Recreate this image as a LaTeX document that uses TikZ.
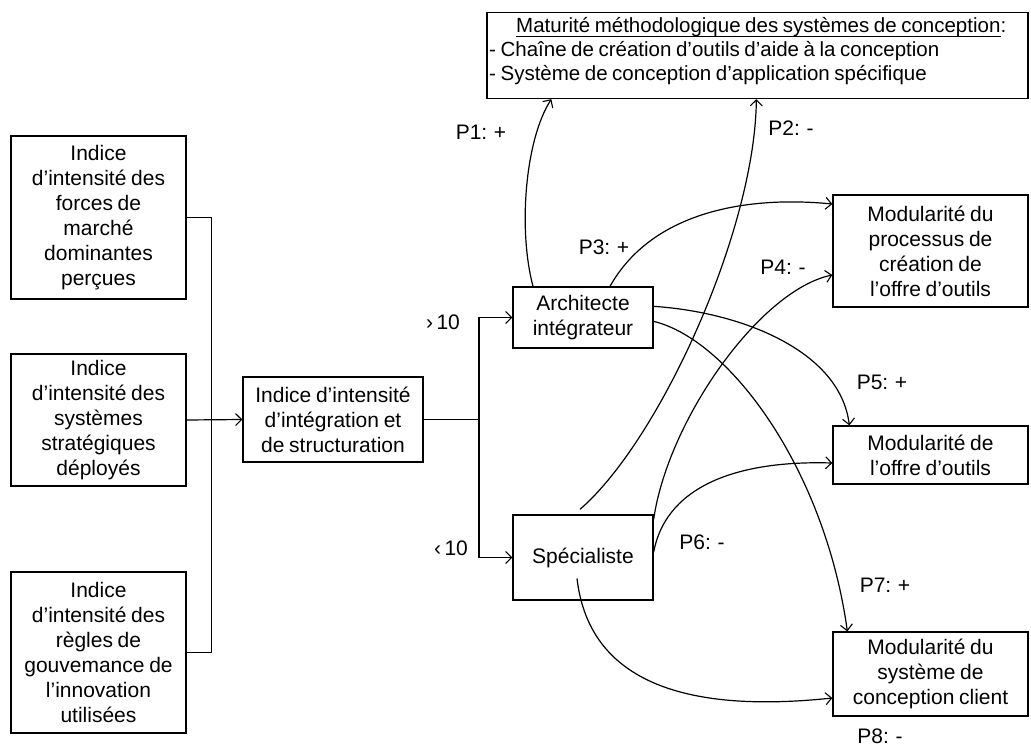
\documentclass[tikz,border=0pt]{standalone}
\usepackage{fontspec}
\setmainfont{Liberation Sans}[WordSpace=0.8]
\usetikzlibrary{arrows.meta}
% underline placed a fixed distance under the baseline
\newcommand\ulbase[1]{\underline{\raisebox{0pt}[\height][0pt]{#1}\rule[-3pt]{0pt}{3pt}}}
\begin{document}
\begin{tikzpicture}[x=1pt,y=-1pt,
  font=\fontsize{21}{25}\selectfont,
  box/.style={draw,line width=1.3pt,inner sep=0pt,align=center},
  conn/.style={line width=1.2pt},
  arr/.style={conn,-{Straight Barb[length=6pt,width=12pt,line width=1.1pt]}},
  lbl/.style={inner sep=0pt}]
\useasboundingbox (0,0) rectangle (1031,747);

% left column of indices
\node[box,minimum width=175,minimum height=163] (b1) at (98.5,217.5)
  {Indice\\d’intensité des\\forces de\\marché\\dominantes\\perçues};
\node[box,minimum width=175,minimum height=132] (b2) at (98.5,420)
  {Indice\\d’intensité des\\systèmes\\stratégiques\\déployés};
\node[box,minimum width=175,minimum height=161] (b3) at (98.5,652.5)
  {Indice\\d’intensité des\\règles de\\gouvemance de\\l’innovation\\utilisées};

% central index
\node[box,minimum width=180,minimum height=85] (mid) at (333,419.5)
  {Indice d’intensité\\d’intégration et\\de structuration};

% roles
\node[box,minimum width=140,minimum height=61] (arch) at (583,317.5)
  {Architecte\\intégrateur};
\node[box,minimum width=140,minimum height=85] (spec) at (583,557.5)
  {Spécialiste};

% outcomes
\node[box,minimum width=541,minimum height=86] (top) at (757.5,55.5) {};
\node[lbl,anchor=north west,align=left,font=\fontsize{20.5}{24}\selectfont]
  (toptext) at (489,17)
  {\hspace*{27pt}\ulbase{Maturité méthodologique des systèmes de conception}:\\
   - Chaîne de création d’outils d’aide à la conception\\
   - Système de conception d’application spécifique};
\node[box,minimum width=195,minimum height=112] (mA) at (930.5,251)
  {Modularité du\\processus de\\création de\\l’offre d’outils};
\node[box,minimum width=195,minimum height=58] (mB) at (930.5,455)
  {Modularité de\\l’offre d’outils};
\node[box,minimum width=195,minimum height=84] (mC) at (930.5,674)
  {Modularité du\\système de\\conception client};

% labels
\node[lbl] (t10a) at (443,322) {›\,10};
\node[lbl] (t10b) at (451,548) {‹\,10};
\node[lbl] (p1) at (481,132) {P1: +};
\node[lbl] (p2) at (791,128) {P2: -};
\node[lbl] (p3) at (604,247) {P3: +};
\node[lbl] (p4) at (783,267) {P4: -};
\node[lbl] (p5) at (882,382) {P5: +};
\node[lbl] (p6) at (702,542) {P6: -};
\node[lbl] (p7) at (885,585) {P7: +};
\node[lbl] (p8) at (880,736) {P8: -};

% aggregation of the three indices
\draw[conn] (b1.east) -- ++(25,0) |- (b3.east);
\draw[arr] (b2.east) -- (mid.west);

% split by threshold
\coordinate (split) at (479,419.5);
\draw[conn] (mid.east) -- (split);
\draw[arr] (split) |- (arch.west);
\draw[arr] (split) |- (spec.west);

% propositions
\draw[arr] ([xshift=-50pt]arch.north) .. controls (518,230) and (525,140) .. ([xshift=65pt]top.south west);
\draw[arr] ([xshift=-3pt,yshift=5pt]spec.north) .. controls (660,440) and (755,230) .. ([xshift=270pt]top.south west);
\draw[arr] ([xshift=27pt]arch.north) .. controls (650,215) and (740,195) .. ([yshift=47pt]mA.west);
\draw[arr] ([yshift=-5pt]spec.north east) .. controls (668,420) and (760,290) .. ([yshift=-24pt]mA.west);
\draw[arr] ([yshift=-20pt]arch.north east) .. controls (740,312) and (840,350) .. ([xshift=17pt]mB.north west);
\draw[arr] ([yshift=-38pt]spec.north east) .. controls (665,490) and (730,460) .. ([yshift=-8pt]mB.west);
\draw[arr] ([yshift=-35pt]arch.north east) .. controls (730,340) and (825,470) .. ([xshift=15pt]mC.north west);
\draw[arr] ([xshift=-6pt,yshift=-21pt]spec.center) .. controls (590,690) and (700,712) .. ([yshift=-24pt]mC.west);
\end{tikzpicture}
\end{document}
